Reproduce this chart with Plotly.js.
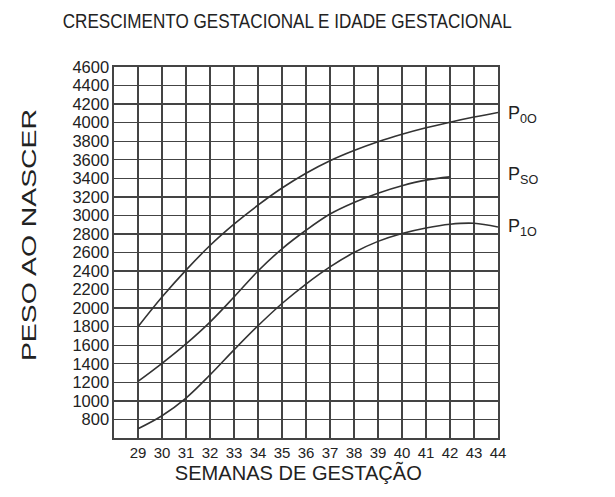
<!DOCTYPE html>
<html>
<head>
<meta charset="utf-8">
<script src="https://cdn.plot.ly/plotly-3.0.1.min.js"></script>
<style>html,body{margin:0;padding:0;background:#fff}#chart{width:615px;height:497px}</style>
</head>
<body>
<div id="chart"></div>
<script>
const weeks = [29,30,31,32,33,34,35,36,37,38,39,40,41,42,43,44];
const p0o = [1800,2120,2410,2675,2905,3110,3295,3455,3590,3700,3795,3875,3945,4005,4060,4110];
const weeksSO = [29,30,31,32,33,34,35,36,37,38,39,40,41,42];
const pSO = [1210,1405,1615,1850,2120,2400,2640,2840,3015,3140,3240,3320,3380,3415];
const p1o = [700,840,1030,1280,1550,1810,2050,2260,2445,2600,2720,2805,2865,2905,2915,2875];
const yTicks = [800,1000,1200,1400,1600,1800,2000,2200,2400,2600,2800,3000,3200,3400,3600,3800,4000,4200,4400,4600];
const curveLabels = ['P<sub>0O</sub>','P<sub>SO</sub>','P<sub>1O</sub>'];
const labelY = [4090,3430,2870];
const titleText = 'CRESCIMENTO GESTACIONAL E IDADE GESTACIONAL';
const yTitle = 'PESO AO NASCER';
const xTitle = 'SEMANAS DE GESTAÇÃO';

const lineStyle = {color:'#333', width:1.6, shape:'spline', smoothing:1};
const traces = [
  {x:weeks, y:p0o, mode:'lines', line:lineStyle, hoverinfo:'skip'},
  {x:weeksSO, y:pSO, mode:'lines', line:lineStyle, hoverinfo:'skip'},
  {x:weeks, y:p1o, mode:'lines', line:lineStyle, hoverinfo:'skip'}
];
const font = 'Liberation Sans, Arial, sans-serif';
const annotations = curveLabels.map((t,i)=>({
  text:t, xref:'paper', yref:'y', x:1.02, y:labelY[i], xanchor:'left', yanchor:'middle',
  showarrow:false, font:{family:font, size:18, color:'#222'}
}));
annotations.push({text:yTitle, xref:'paper', yref:'paper', x:-0.223, y:0.547,
  xanchor:'center', yanchor:'middle', textangle:-90, showarrow:false,
  font:{family:font, size:21, color:'#222'}});
annotations.push({text:xTitle, xref:'paper', yref:'paper', x:0.48, y:-0.092,
  xanchor:'center', yanchor:'middle', showarrow:false,
  font:{family:font, size:21, color:'#222'}});

const layout = {
  width:615, height:497,
  margin:{l:114, r:117, t:67, b:59},
  paper_bgcolor:'#fff', plot_bgcolor:'#fff',
  showlegend:false,
  title:{text:titleText, xref:'container', x:0.467, xanchor:'center',
    yref:'container', y:0.958, yanchor:'middle', font:{family:font, size:21, color:'#222'}},
  xaxis:{range:[28,44], tickvals:weeks, ticktext:weeks.map(String), showgrid:true, gridcolor:'#444', gridwidth:1.4,
    zeroline:false, showline:true, linecolor:'#444', linewidth:1.6, mirror:true,
    ticks:'', tickfont:{family:font, size:15, color:'#222'}},
  yaxis:{range:[600,4600], tickvals:yTicks, ticktext:yTicks.map(String), showgrid:true, gridcolor:'#444', gridwidth:1.4,
    zeroline:false, showline:true, linecolor:'#444', linewidth:1.6, mirror:true,
    ticks:'', tickfont:{family:font, size:16.5, color:'#222'}},
  annotations:annotations
};
function fitLength(el, len){
  el.setAttribute('textLength', len);
  el.setAttribute('lengthAdjust', 'spacingAndGlyphs');
}
Plotly.newPlot('chart', traces, layout, {staticPlot:true, displayModeBar:false}).then(function(gd){
  gd.querySelectorAll('.annotation-text').forEach(function(el){
    if (el.textContent === yTitle) fitLength(el, 252);
    if (el.textContent === xTitle) fitLength(el, 247);
  });
  gd.querySelectorAll('.gtitle').forEach(function(el){
    if (el.textContent === titleText) fitLength(el, 449);
  });
});
</script>
</body>
</html>
